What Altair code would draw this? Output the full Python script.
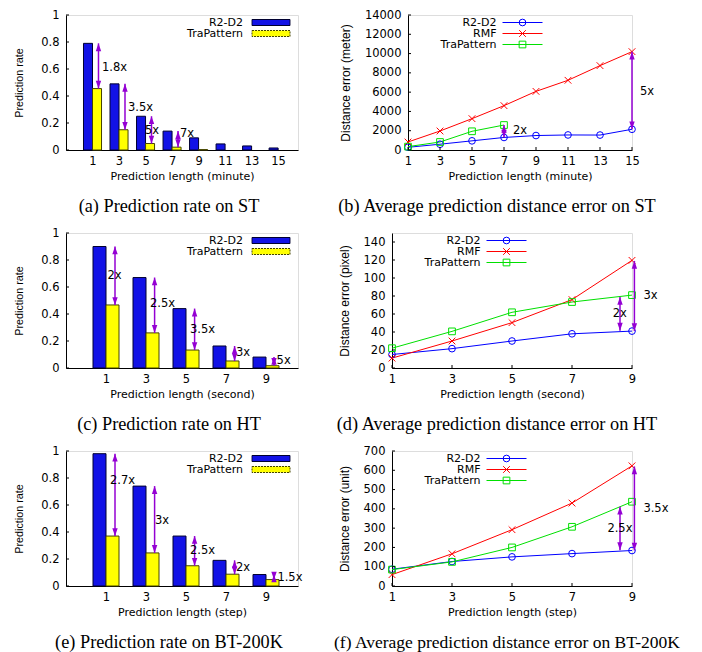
import altair as alt
import pandas as pd

# ---------------- values ----------------
st_len = [1, 3, 5, 7, 9, 11, 13, 15]
st_rate_r2d2 = [0.79, 0.49, 0.25, 0.14, 0.09, 0.045, 0.03, 0.015]
st_rate_trap = [0.455, 0.15, 0.048, 0.021, 0.003, 0.0, 0.0, 0.0]
st_err_r2d2 = [280, 600, 950, 1300, 1500, 1560, 1550, 2150]
st_err_rmf = [830, 1970, 3250, 4600, 6080, 7230, 8750, 10200]
st_err_trap = [350, 830, 1940, 2590]

ht_len = [1, 3, 5, 7, 9]
ht_rate_r2d2 = [0.90, 0.67, 0.44, 0.163, 0.081]
ht_rate_trap = [0.467, 0.26, 0.133, 0.052, 0.017]
ht_err_r2d2 = [15, 21.5, 30, 38, 41]
ht_err_rmf = [11, 30, 50.4, 76, 119.6]
ht_err_trap = [22, 40.7, 61.9, 73.3, 81]

bt_len = [1, 3, 5, 7, 9]
bt_rate_r2d2 = [0.98, 0.74, 0.37, 0.19, 0.085]
bt_rate_trap = [0.37, 0.245, 0.15, 0.0875, 0.0475]
bt_err_r2d2 = [87, 127, 151, 168, 184]
bt_err_rmf = [59, 167, 292, 430, 623]
bt_err_trap = [85, 125, 200, 307, 437]

# annotations (arrow x, arrow top, arrow bottom, label, label x, label y) in data units
ann_a_x = [1.45, 3.45, 5.45, 7.45]
ann_a_top = [0.79, 0.49, 0.25, 0.14]
ann_a_bot = [0.455, 0.15, 0.048, 0.021]
ann_a_lab = ["1.8x", "3.5x", "5x", "7x"]
ann_a_lx = [1.71, 3.68, 4.96, 7.6]
ann_a_ly = [0.61, 0.313, 0.143, 0.12]

ann_c_x = [1.45, 3.43, 5.43, 7.43, 9.4]
ann_c_top = [0.90, 0.67, 0.44, 0.163, 0.081]
ann_c_bot = [0.467, 0.26, 0.133, 0.052, 0.017]
ann_c_lab = ["2x", "2.5x", "3.5x", "3x", "5x"]
ann_c_lx = [1.07, 3.2, 5.2, 7.5, 9.53]
ann_c_ly = [0.68, 0.477, 0.28, 0.111, 0.049]

ann_e_x = [1.45, 3.43, 5.43, 7.43, 9.4]
ann_e_top = [0.98, 0.74, 0.37, 0.19, 0.085]
ann_e_bot = [0.37, 0.245, 0.15, 0.0875, 0.0475]
ann_e_lab = ["2.7x", "3x", "2.5x", "2x", "1.5x"]
ann_e_lx = [1.2, 3.45, 5.2, 7.5, 9.57]
ann_e_ly = [0.775, 0.48, 0.26, 0.13, 0.0625]

ann_b_x = [7, 15]
ann_b_top = [2590, 10200]
ann_b_bot = [1300, 2150]
ann_b_lab = ["2x", "5x"]
ann_b_lx = [7.56, 15.5]
ann_b_ly = [1940, 5990]

ann_d_x = [8.6, 9.08]
ann_d_top = [79, 119]
ann_d_bot = [41.5, 41]
ann_d_lab = ["2x", "3x"]
ann_d_lx = [8.36, 9.38]
ann_d_ly = [60, 80]

ann_f_x = [8.6, 9.08]
ann_f_top = [411, 620]
ann_f_bot = [186, 184]
ann_f_lab = ["2.5x", "3.5x"]
ann_f_lx = [8.18, 9.38]
ann_f_ly = [298, 400]

# ---------------- styles ----------------
FONT = "DejaVu Sans"
YFONT = "Liberation Sans"
CAPFONT = "Liberation Serif"
LBL = 11.5
LEG = 11
PURPLE = "#9400d3"
C_R2D2 = "#0000ff"
C_RMF = "#ff0000"
C_TRAP = "#00e000"
BAR_BLUE = "#1212e6"
BAR_YEL = "#ffff00"
ARROW_UP = "M0,0L-0.9,2.6L0.9,2.6Z"
ARROW_DOWN = "M0,0L-0.9,-2.6L0.9,-2.6Z"
XSHAPE = "M-1,-1L1,1M1,-1L-1,1"
H = 135
one = pd.DataFrame({"k": [0]})


def yaxis(vals, fmt, title, tpad, tsize):
    return alt.Axis(values=vals, format=fmt, title=title, titleFont=YFONT,
                    titleFontSize=tsize, titleFontWeight="normal", labelFont=FONT,
                    labelFontSize=LBL, labelPadding=7, ticks=False, tickSize=0,
                    titlePadding=tpad, labelFlush=False, labelOverlap=False,
                    grid=False, domainColor="black", labelColor="black",
                    titleColor="black")


def xaxis(vals, title):
    return alt.Axis(values=vals, format="d", title=title, titleFont=FONT,
                    titleFontSize=11, titleFontWeight="normal", labelFont=FONT,
                    labelFontSize=LBL, labelPadding=5, ticks=False, tickSize=0,
                    titlePadding=4, labelFlush=False, labelOverlap=False,
                    grid=False, domainColor="black", labelColor="black",
                    titleColor="black")


def annotations(xs, tops, bots, labs, lxs, lys, xsc, ysc, xax, yax):
    df = pd.DataFrame({"x": xs, "top": tops, "bot": bots})
    base = alt.Chart(df)
    rule = base.mark_rule(color=PURPLE, strokeWidth=1.5).encode(
        x=alt.X("x:Q", scale=xsc, axis=xax),
        y=alt.Y("top:Q", scale=ysc, axis=yax), y2="bot:Q")
    up = base.mark_point(shape=ARROW_UP, filled=True, size=36, color=PURPLE,
                         opacity=1, strokeWidth=0).encode(
        x=alt.X("x:Q", scale=xsc, axis=xax), y=alt.Y("top:Q", scale=ysc, axis=yax))
    down = base.mark_point(shape=ARROW_DOWN, filled=True, size=36, color=PURPLE,
                           opacity=1, strokeWidth=0).encode(
        x=alt.X("x:Q", scale=xsc, axis=xax), y=alt.Y("bot:Q", scale=ysc, axis=yax))
    ldf = pd.DataFrame({"lx": lxs, "ly": lys, "t": labs})
    text = alt.Chart(ldf).mark_text(align="left", baseline="middle", font=FONT,
                                    fontSize=LBL, color="black").encode(
        x=alt.X("lx:Q", scale=xsc, axis=xax), y=alt.Y("ly:Q", scale=ysc, axis=yax),
        text="t:N")
    return [rule, up, down, text]


def inward_yticks(vals, ysc, yax):
    df = pd.DataFrame({"v": vals})
    return alt.Chart(df).mark_rule(color="black", strokeWidth=1).encode(
        y=alt.Y("v:Q", scale=ysc, axis=yax), x=alt.value(0), x2=alt.value(3))


def inward_xticks(vals, xsc, xax):
    df = pd.DataFrame({"v": vals})
    return alt.Chart(df).mark_rule(color="black", strokeWidth=1).encode(
        x=alt.X("v:Q", scale=xsc, axis=xax), y=alt.value(H), y2=alt.value(H - 3))


def caption(text, dx, size=18.3):
    return alt.TitleParams(text=text, orient="bottom", anchor="middle", font=CAPFONT,
                           fontSize=size, fontWeight="normal", color="black", dx=dx,
                           offset=16)


def bar_panel(lens, r2d2, trap, xdom, bw, ann, xtitle, cap, width):
    xsc = alt.Scale(domain=xdom, nice=False, zero=False)
    ysc = alt.Scale(domain=[0, 1], nice=False)
    yvals = [0, 0.2, 0.4, 0.6, 0.8, 1]
    xax = xaxis(lens, xtitle)
    yax = yaxis(yvals, "~g", "Prediction rate", 16, 10.8)
    rows = []
    for L, a, b in zip(lens, r2d2, trap):
        rows.append({"len": L, "series": "R2-D2", "v": a})
        if b > 0:
            rows.append({"len": L, "series": "TraPattern", "v": b})
    df = pd.DataFrame(rows)
    dom = ["R2-D2", "TraPattern"]
    bars = alt.Chart(df).transform_calculate(
        x0=f"datum.series == 'R2-D2' ? datum.len - {bw} : datum.len",
        x1=f"datum.series == 'R2-D2' ? datum.len : datum.len + {bw}",
    ).mark_rect(strokeWidth=1).encode(
        x=alt.X("x0:Q", scale=xsc, axis=xax),
        x2="x1:Q",
        y=alt.Y("v:Q", scale=ysc, axis=yax),
        y2=alt.datum(0),
        fill=alt.Fill("series:N", scale=alt.Scale(domain=dom, range=[BAR_BLUE, BAR_YEL]),
                      legend=None),
        stroke=alt.Stroke("series:N", scale=alt.Scale(domain=dom, range=["#000030", "#444400"]),
                          legend=None),
        strokeDash=alt.StrokeDash("series:N", scale=alt.Scale(domain=dom, range=[[1, 0], [2, 1]]),
                                  legend=None),
    )
    layers = [bars, inward_yticks(yvals, ysc, yax)]
    layers += annotations(*ann, xsc, ysc, xax, yax)
    for name, y, fill, stroke, dash in [("R2-D2", 7.5, BAR_BLUE, "#000030", [1, 0]),
                                        ("TraPattern", 18.5, BAR_YEL, "#444400", [2, 1])]:
        layers.append(alt.Chart(one).mark_text(text=name, align="right", baseline="middle",
                                               font=FONT, fontSize=LEG, color="black").encode(
            x=alt.value(177), y=alt.value(y)))
        layers.append(alt.Chart(one).mark_rect(fill=fill, stroke=stroke, strokeWidth=1,
                                               strokeDash=dash).encode(
            x=alt.value(186), x2=alt.value(224), y=alt.value(y - 3), y2=alt.value(y + 3)))
    return alt.layer(*layers).properties(width=width, height=H, title=cap)


def line_panel(lens, r2d2, rmf, trap, ydom, yvals, ytitle, tpad, ann, xtitle, cap, width):
    xsc = alt.Scale(domain=[lens[0], lens[-1]], nice=False, zero=False)
    ysc = alt.Scale(domain=ydom, nice=False)
    xax = xaxis(lens, xtitle)
    yax = yaxis(yvals, "d", ytitle, tpad, 12)
    rows = []
    for name, vals in [("R2-D2", r2d2), ("RMF", rmf), ("TraPattern", trap)]:
        for L, v in zip(lens, vals):
            rows.append({"len": L, "series": name, "v": v})
    df = pd.DataFrame(rows)
    dom = ["R2-D2", "RMF", "TraPattern"]
    cols = [C_R2D2, C_RMF, C_TRAP]
    shapes = ["circle", XSHAPE, "square"]
    color = alt.Color("series:N", scale=alt.Scale(domain=dom, range=cols), legend=None)
    shape = alt.Shape("series:N", scale=alt.Scale(domain=dom, range=shapes), legend=None)
    lines = alt.Chart(df).mark_line(strokeWidth=1).encode(
        x=alt.X("len:Q", scale=xsc, axis=xax),
        y=alt.Y("v:Q", scale=ysc, axis=yax),
        color=color, order="len:Q")
    pts = alt.Chart(df).mark_point(filled=False, size=45, strokeWidth=1, opacity=1).encode(
        x=alt.X("len:Q", scale=xsc, axis=xax),
        y=alt.Y("v:Q", scale=ysc, axis=yax),
        color=color, shape=shape)
    layers = [lines, pts, inward_yticks(yvals, ysc, yax), inward_xticks(lens, xsc, xax)]
    layers += annotations(*ann, xsc, ysc, xax, yax)
    for name, y in zip(dom, [7.5, 18.5, 29.5]):
        key = pd.DataFrame({"series": [name]})
        layers.append(alt.Chart(key).mark_text(text=name, align="right", baseline="middle",
                                               font=FONT, fontSize=LEG, color="black").encode(
            x=alt.value(88.5), y=alt.value(y)))
        layers.append(alt.Chart(key).mark_rule(strokeWidth=1).encode(
            x=alt.value(94.5), x2=alt.value(134.5), y=alt.value(y), color=color))
        layers.append(alt.Chart(key).mark_point(filled=False, size=45, strokeWidth=1,
                                                opacity=1).encode(
            x=alt.value(114.5), y=alt.value(y), color=color, shape=shape))
    return alt.layer(*layers).properties(width=width, height=H, title=cap)


pa = bar_panel(st_len, st_rate_r2d2, st_rate_trap, [-1, 16.5], 0.68,
               (ann_a_x, ann_a_top, ann_a_bot, ann_a_lab, ann_a_lx, ann_a_ly),
               "Prediction length (minute)",
               caption("(a) Prediction rate on ST", -13), 232)
pb = line_panel(st_len, st_err_r2d2, st_err_rmf, st_err_trap, [0, 14000],
                list(range(0, 14001, 2000)), "Distance error (meter)", 12,
                (ann_b_x, ann_b_top, ann_b_bot, ann_b_lab, ann_b_lx, ann_b_ly),
                "Prediction length (minute)",
                caption("(b) Average prediction distance error on ST", -23), 224)
pc = bar_panel(ht_len, ht_rate_r2d2, ht_rate_trap, [-1, 10.6], 0.65,
               (ann_c_x, ann_c_top, ann_c_bot, ann_c_lab, ann_c_lx, ann_c_ly),
               "Prediction length (second)",
               caption("(c) Prediction rate on HT", -13), 232)
pd_ = line_panel(ht_len, ht_err_r2d2, ht_err_rmf, ht_err_trap, [0, 150],
                 list(range(0, 141, 20)), "Distance error (pixel)", 12,
                 (ann_d_x, ann_d_top, ann_d_bot, ann_d_lab, ann_d_lx, ann_d_ly),
                 "Prediction length (second)",
                 caption("(d) Average prediction distance error on HT", -15), 240)
pe = bar_panel(bt_len, bt_rate_r2d2, bt_rate_trap, [-1, 10.6], 0.65,
               (ann_e_x, ann_e_top, ann_e_bot, ann_e_lab, ann_e_lx, ann_e_ly),
               "Prediction length (step)",
               caption("(e) Prediction rate on BT-200K", -13), 232)
pf = line_panel(bt_len, bt_err_r2d2, bt_err_rmf, bt_err_trap, [0, 700],
                list(range(0, 701, 100)), "Distance error (unit)", 12,
                (ann_f_x, ann_f_top, ann_f_bot, ann_f_lab, ann_f_lx, ann_f_ly),
                "Prediction length (step)",
                caption("(f) Average prediction distance error on BT-200K", -5, 17.5), 240)

row1 = alt.hconcat(pa, pb, spacing=110, bounds="flush")
row2 = alt.hconcat(pc, pd_, spacing=94, bounds="flush")
row3 = alt.hconcat(pe, pf, spacing=94, bounds="flush")
chart = alt.vconcat(row1, row2, row3, spacing=10).properties(
    padding={"left": 5, "top": 0, "right": 0, "bottom": 0}
).configure_view(stroke=None).configure(background="white")

chart.save("out.html", embed_options={"renderer": "svg", "actions": False})
